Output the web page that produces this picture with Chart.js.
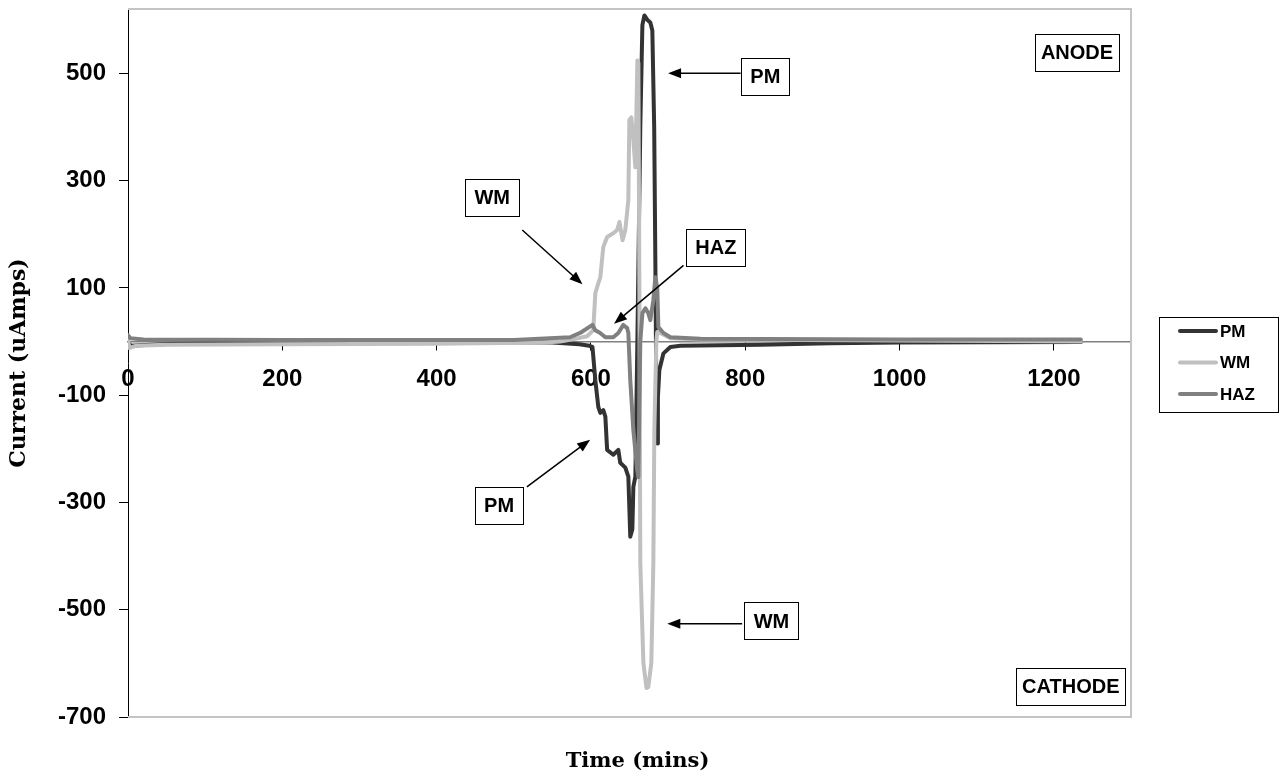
<!DOCTYPE html>
<html>
<head>
<meta charset="utf-8">
<script src="https://cdn.jsdelivr.net/npm/chart.js@4.4.1/dist/chart.umd.min.js"></script>
<style>
html,body{margin:0;padding:0;background:#fff;}
#wrap{width:1287px;height:778px;}
</style>
</head>
<body>
<div id="wrap"><canvas id="c" width="1287" height="778"></canvas></div>
<script>
// ---- data ----
const seriesNames = ['PM', 'WM', 'HAZ'];
const xTicks = [0, 200, 400, 600, 800, 1000, 1200];
const yTicks = [-700, -500, -300, -100, 100, 300, 500];

const pmTime = [0, 4, 15, 60, 150, 300, 450, 550, 585, 598, 602, 605.7, 609.6, 612.2, 616, 618.7, 621, 629, 635.5, 638, 644.6, 648.5, 651, 653.7, 655, 657.6, 660.2, 664, 666.7, 669.3, 673, 677, 679.6, 682, 683.5, 684.8, 686, 686.8, 688.7, 694, 703, 716, 820, 910, 1000, 1235];
const pmCur  = [-2, -8, -7, -4, -2, -1, -1, -2, -5, -8, -10, -72, -122, -133, -128, -140, -202, -211, -202, -226, -235, -252, -364, -350, -271, -252, 0, 400, 590, 608, 600, 595, 580, 400, 150, -100, -190, -104, -53, -22, -10, -8, -6, -3, -2, -1];

const wmTime = [0, 2, 10, 50, 200, 400, 540, 560, 580, 595, 603, 605.7, 609.6, 612.2, 616, 621, 629, 634, 637, 641, 644.6, 648.5, 649.8, 652.4, 655, 657.6, 660.2, 661.5, 662.8, 664, 668, 672, 674.4, 678.3, 680.9, 682.2, 684.8, 686, 690, 703, 742, 872, 1131, 1235];
const wmCur  = [2, -12, -8, -6, -5, -4, -2, 0, 5, 10, 21, 90, 109, 120, 176, 195, 202, 208, 223, 189, 208, 264, 413, 418, 375, 325, 524, 519, 100, -413, -599, -646, -644, -599, -413, -165, 0, 18, 16, 6, 4, 3, 1, 0];

const hazTime = [0, 3, 20, 200, 500, 573, 586, 602, 605.7, 612, 618.7, 629, 635.5, 642, 647, 648.5, 651, 655, 660, 661.5, 664, 666.7, 670.6, 674.4, 677, 680.9, 683.5, 686, 687.4, 694, 703, 742, 1000, 1235];
const hazCur  = [12, 6, 4, 3, 3, 8, 16, 31, 21, 16, 8, 8, 16, 31, 25, 16, -72, -165, -240, -253, 0, 53, 62, 53, 40, 77, 120, 100, 27, 16, 8, 5, 4, 4];

// annotation labels (positions in data units: time, current)
const notes = [
  {text: 'ANODE',   t: 1230, v: 538},
  {text: 'PM',      t: 826,  v: 495, arrow: [794, 500, 700, 500]},
  {text: 'WM',      t: 472,  v: 269, arrow: [511, 208, 589, 107]},
  {text: 'HAZ',     t: 762,  v: 176, arrow: [720, 142, 630, 33]},
  {text: 'PM',      t: 481,  v: -305, arrow: [517, -271, 599, -183]},
  {text: 'WM',      t: 834,  v: -521, arrow: [796, -526, 699, -526]},
  {text: 'CATHODE', t: 1222, v: -644}
];

const colors = ['#333333', '#c0c0c0', '#808080'];

function pts(ts, vs){ return ts.map((t,i)=>({x:t, y:vs[i]})); }

const BOLD = 'bold 20px "Liberation Sans", Arial, sans-serif';
const TICKFONT = {family: '"Liberation Sans", Arial, sans-serif', size: 24, weight: 'bold'};

const decor = {
  id: 'decor',
  beforeDatasetsDraw(chart){
    const {ctx, chartArea:a} = chart;
    ctx.save();
    ctx.strokeStyle = '#c4c4c4';
    ctx.lineWidth = 2;
    ctx.beginPath();
    ctx.moveTo(a.left, a.top); ctx.lineTo(a.right, a.top); ctx.lineTo(a.right, a.bottom); ctx.lineTo(a.left, a.bottom);
    ctx.stroke();
    ctx.restore();
  },
  afterDraw(chart){
    const {ctx, chartArea:a, scales} = chart;
    const xs = scales.x, ys = scales.y;
    ctx.save();
    // annotations
    ctx.font = BOLD;
    ctx.textAlign = 'center';
    ctx.textBaseline = 'middle';
    notes.forEach(n=>{
      if (n.arrow){
        const x1 = xs.getPixelForValue(n.arrow[0]), y1 = ys.getPixelForValue(n.arrow[1]);
        const x2 = xs.getPixelForValue(n.arrow[2]), y2 = ys.getPixelForValue(n.arrow[3]);
        const ang = Math.atan2(y2-y1, x2-x1);
        const hl = 13, hw = 5;
        ctx.strokeStyle = '#000'; ctx.lineWidth = 1.5;
        ctx.beginPath(); ctx.moveTo(x1,y1); ctx.lineTo(x2 - Math.cos(ang)*hl*0.8, y2 - Math.sin(ang)*hl*0.8); ctx.stroke();
        ctx.fillStyle = '#000';
        ctx.beginPath();
        ctx.moveTo(x2,y2);
        ctx.lineTo(x2 - Math.cos(ang)*hl - Math.sin(ang)*hw, y2 - Math.sin(ang)*hl + Math.cos(ang)*hw);
        ctx.lineTo(x2 - Math.cos(ang)*hl + Math.sin(ang)*hw, y2 - Math.sin(ang)*hl - Math.cos(ang)*hw);
        ctx.closePath(); ctx.fill();
      }
      const cx = xs.getPixelForValue(n.t), cy = ys.getPixelForValue(n.v);
      const tw = ctx.measureText(n.text).width;
      const w = Math.round(tw + (tw < 60 ? 18 : 12)), h = 37;
      const bx = Math.round(cx - w/2) + 0.5, by = Math.round(cy - h/2) + 0.5;
      ctx.fillStyle = '#fff';
      ctx.fillRect(bx, by, w, h);
      ctx.strokeStyle = '#000'; ctx.lineWidth = 1;
      ctx.strokeRect(bx, by, w, h);
      ctx.fillStyle = '#000';
      ctx.fillText(n.text, cx, cy + 1);
    });
    // x-axis title
    ctx.font = 'bold 21px "DejaVu Serif", Georgia, serif';
    ctx.fillText('Time (mins)', (a.left + a.right)/2 + 8, 762);
    // legend
    const lx = 1159, ly = 317, lw = 119, lh = 95;
    ctx.fillStyle = '#fff'; ctx.fillRect(lx+0.5, ly+0.5, lw, lh);
    ctx.strokeStyle = '#000'; ctx.lineWidth = 1; ctx.strokeRect(lx+0.5, ly+0.5, lw, lh);
    ctx.font = 'bold 17px "Liberation Sans", Arial, sans-serif';
    ctx.textAlign = 'left';
    chart.data.datasets.forEach((ds, i)=>{
      const yy = ly + 14 + i*31.5;
      ctx.strokeStyle = ds.borderColor; ctx.lineWidth = 4; ctx.lineCap = 'round';
      ctx.beginPath(); ctx.moveTo(lx+21, yy); ctx.lineTo(lx+57, yy); ctx.stroke();
      ctx.fillStyle = '#000';
      ctx.fillText(ds.label, lx + 61, yy + 1);
    });
    ctx.restore();
  }
};

new Chart(document.getElementById('c'), {
  type: 'line',
  data: {
    datasets: [
      {label: seriesNames[0], data: pts(pmTime, pmCur), borderColor: colors[0], order: 3},
      {label: seriesNames[1], data: pts(wmTime, wmCur), borderColor: colors[1], order: 2},
      {label: seriesNames[2], data: pts(hazTime, hazCur), borderColor: colors[2], order: 1}
    ]
  },
  options: {
    responsive: false,
    animation: false,
    events: [],
    layout: {padding: {top: 9, right: 156, bottom: 61, left: 0}},
    elements: {
      point: {radius: 0},
      line: {borderWidth: 4, tension: 0, borderJoinStyle: 'round', borderCapStyle: 'round', fill: false}
    },
    plugins: {legend: {display: false}, tooltip: {enabled: false}},
    scales: {
      x: {
        type: 'linear',
        min: 0, max: 1300,
        position: {y: 0},
        afterBuildTicks(s){ s.ticks = xTicks.map(v=>({value: v})); },
        grid: {drawOnChartArea: false, drawTicks: true, tickLength: 8, color: '#000', tickWidth: 1},
        border: {display: true, color: '#808080', width: 1.5},
        ticks: {color: '#000', font: TICKFONT, padding: 15, maxRotation: 0, autoSkip: false,
                callback: v => String(v)}
      },
      y: {
        type: 'linear',
        min: -700, max: 620,
        afterBuildTicks(s){ s.ticks = yTicks.map(v=>({value: v})); },
        afterFit(s){ s.width = 128; s.paddingTop = 0; s.paddingBottom = 0; },
        grid: {drawOnChartArea: false, drawTicks: true, tickLength: 9, color: '#000'},
        border: {display: true, color: '#000', width: 1},
        ticks: {color: '#000', font: TICKFONT, padding: 13, autoSkip: false,
                callback: v => String(v)},
        title: {display: true, text: 'Current (uAmps)', color: '#000', font: {family: '"DejaVu Serif", Georgia, serif', size: 22, weight: 'bold'}, padding: {top: 6, bottom: 0}}
      }
    }
  },
  plugins: [decor]
});
</script>
</body>
</html>
